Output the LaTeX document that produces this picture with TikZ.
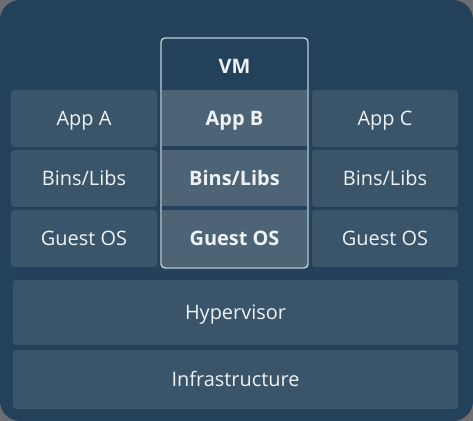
\documentclass[tikz,border=0pt]{standalone}
\usepackage{fontspec}
\setmainfont{Open Sans}
\definecolor{outergray}{HTML}{6E6E72}
\definecolor{vmbg}{HTML}{23415A}
\definecolor{cellfill}{HTML}{3A5569}
\definecolor{midfill}{HTML}{4C6476}
\definecolor{framecol}{HTML}{C3CFD8}
\definecolor{textcol}{HTML}{EEF2F5}
\tikzset{
    label text/.style={text=textcol, text height=12pt, text depth=0pt,
        font=\fontsize{17}{20}\selectfont},
    cell/.style={label text, fill=cellfill, rounded corners=0.09cm, inner sep=0pt,
        minimum width=4.38cm, minimum height=1.71cm},
    midcell/.style={cell, fill=midfill, minimum width=4.35cm, rounded corners=0pt,
        font=\fontsize{17}{20}\selectfont\bfseries},
    widecell/.style={cell, minimum width=13.35cm},
}
\begin{document}
\begin{tikzpicture}[x=0.03cm, y=0.03cm]
    \fill[outergray] (0,0) rectangle (473,421);
    \fill[vmbg, rounded corners=0.6cm] (0,0) rectangle (473,421);
    \useasboundingbox (0,0) rectangle (473,421);

    % left column
    \node[cell] (appa) at (84,302.5) {App A};
    \node[cell] (binsa) at (84,242.5) {Bins/Libs};
    \node[cell] (osa) at (84,182.5) {Guest OS};

    % middle column (VM)
    \node[label text, font=\fontsize{17}{20}\selectfont\bfseries] (vm) at (234.5,355) {VM};
    \node[midcell] (appb) at (234.5,302.5) {App B};
    \node[midcell] (binsb) at (234.5,242.5) {Bins/Libs};
    \node[midcell] (osb) at (234.5,182.5) {Guest OS};
    \draw[vmbg, line width=0.06cm] (appb.south west) -- (appb.south east);
    \draw[vmbg, line width=0.06cm] (binsb.south west) -- (binsb.south east);
    \draw[framecol, line width=0.04cm, rounded corners=0.12cm] (161,153) rectangle (308,383);

    % right column
    \node[cell] (appc) at (385,302.5) {App C};
    \node[cell] (binsc) at (385,242.5) {Bins/Libs};
    \node[cell] (osc) at (385,182.5) {Guest OS};

    % shared layers
    \node[widecell, minimum height=1.95cm] (hyper) at (235.5,108.5) {Hypervisor};
    \node[widecell, minimum height=1.77cm] (infra) at (235.5,41.5) {Infrastructure};
\end{tikzpicture}
\end{document}
